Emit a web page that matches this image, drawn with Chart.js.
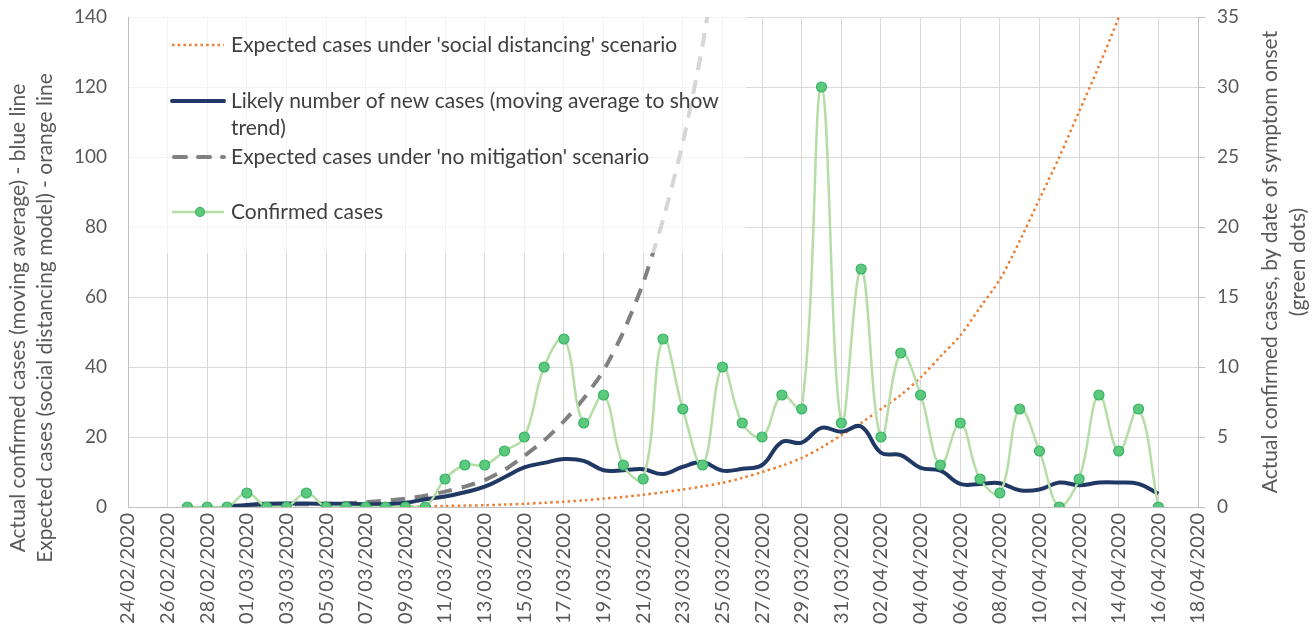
<!DOCTYPE html>
<html>
<head>
<meta charset="utf-8">
<script src="https://cdn.jsdelivr.net/npm/chart.js@4.4.1/dist/chart.umd.min.js"></script>
<style>
  body { margin: 0; background: #fff; }
  #wrap { width: 1312px; height: 635px; position: relative; }
</style>
</head>
<body>
<div id="wrap"><canvas id="chart"></canvas></div>
<script>
// dates, one per day (labels shown every 2 days)
const dates = [
  '24/02/2020','25/02/2020','26/02/2020','27/02/2020','28/02/2020','29/02/2020',
  '01/03/2020','02/03/2020','03/03/2020','04/03/2020','05/03/2020','06/03/2020','07/03/2020',
  '08/03/2020','09/03/2020','10/03/2020','11/03/2020','12/03/2020','13/03/2020','14/03/2020',
  '15/03/2020','16/03/2020','17/03/2020','18/03/2020','19/03/2020','20/03/2020','21/03/2020',
  '22/03/2020','23/03/2020','24/03/2020','25/03/2020','26/03/2020','27/03/2020','28/03/2020',
  '29/03/2020','30/03/2020','31/03/2020','01/04/2020','02/04/2020','03/04/2020','04/04/2020',
  '05/04/2020','06/04/2020','07/04/2020','08/04/2020','09/04/2020','10/04/2020','11/04/2020',
  '12/04/2020','13/04/2020','14/04/2020','15/04/2020','16/04/2020','17/04/2020','18/04/2020'
];

// confirmed cases by onset date (right axis)
const confirmed = [
  null, null, null, 0, 0, 0,
  1, 0, 0, 1, 0, 0, 0,
  0, 0, 0, 2, 3, 3, 4,
  5, 10, 12, 6, 8, 3, 2,
  12, 7, 3, 10, 6, 5, 8,
  7, 30, 6, 17, 5, 11, 8,
  3, 6, 2, 1, 7, 4, 0,
  2, 8, 4, 7, 0, null, null
];

// moving average (left axis)
const movingAvg = [
  null, null, null, null, null, 0.2,
  0.6, 0.9, 1.0, 1.0, 0.9, 0.9, 0.8,
  0.8, 1.2, 2.2, 3.0, 4.2, 5.8, 8.5,
  11.3, 12.6, 13.7, 13.2, 10.5, 10.5, 10.8,
  9.4, 11.5, 12.8, 10.4, 10.9, 12.0, 18.6,
  18.4, 22.6, 21.5, 23.0, 15.5, 14.8, 11.2,
  10.4, 6.6, 6.6, 6.8, 4.8, 5.0, 7.0,
  6.2, 7.0, 7.0, 6.6, 3.8, null, null
];

// no mitigation scenario (left axis)
const noMitigation = [
  null, null, null, null, null, null,
  0.5, 0.6, 0.7, 0.8, 0.9, 1.1, 1.4,
  1.8, 2.4, 3.2, 4.4, 5.8, 7.7, 10.6,
  14.6, 19, 24.5, 31, 39, 50, 64,
  82, 104, 132, 168, null, null, null,
  null, null, null, null, null, null, null,
  null, null, null, null, null, null, null,
  null, null, null, null, null, null, null
];

// social distancing scenario (left axis)
const socialDistancing = [
  null, null, null, null, null, null,
  null, null, null, null, null, null, null,
  null, 0.1, 0.2, 0.3, 0.4, 0.5, 0.7,
  0.9, 1.2, 1.5, 1.9, 2.4, 2.9, 3.5,
  4.2, 5.0, 5.9, 6.9, 8.3, 10, 11.8,
  14, 17, 20.5, 24, 28, 32, 37,
  43, 49, 57, 65, 76, 88, 100,
  113, 126, 140, 156, null, null, null
];

const leftTicks = [0, 20, 40, 60, 80, 100, 120, 140];
const rightTicks = [0, 5, 10, 15, 20, 25, 30, 35];

const seriesNames = [
  "Confirmed cases",
  "Likely number of new cases (moving average to show trend)",
  "Expected cases under 'no mitigation' scenario",
  "Expected cases under 'social distancing' scenario"
];
const leftTitle = ['Actual confirmed cases (moving average) - blue line', 'Expected cases (social distancing model) - orange line'];
const rightTitle = ['Actual confirmed cases, by date of symptom onset', '(green dots)'];

const FONT = 'Lato, "Open Sans", sans-serif';

// legend box drawn inside the plot, semi transparent like Excel
const legendBox = {
  id: 'legendBox',
  afterDatasetsDraw(chart) {
    const ctx = chart.ctx;
    const a = chart.chartArea;
    ctx.save();
    ctx.fillStyle = 'rgba(255,255,255,0.68)';
    ctx.fillRect(a.left + 1, a.top, 745 - a.left, 253 - a.top);

    ctx.font = '21px ' + FONT;
    ctx.fillStyle = '#404040';
    ctx.textBaseline = 'middle';
    const x0 = 172, x1 = 224, tx = 231;

    // social distancing
    ctx.beginPath();
    ctx.strokeStyle = '#ed7d31';
    ctx.lineWidth = 2.5;
    ctx.setLineDash([2.5, 3.2]);
    ctx.moveTo(x0, 45); ctx.lineTo(x1, 45); ctx.stroke();
    ctx.fillText(seriesNames[3], tx, 45);

    // moving average
    ctx.beginPath();
    ctx.setLineDash([]);
    ctx.strokeStyle = '#1f3864';
    ctx.lineWidth = 4;
    ctx.lineCap = 'round';
    ctx.moveTo(x0, 101); ctx.lineTo(x1, 101); ctx.stroke();
    ctx.fillText('Likely number of new cases (moving average to show', tx, 101);
    ctx.fillText('trend)', tx, 128);

    // no mitigation
    ctx.beginPath();
    ctx.strokeStyle = '#808080';
    ctx.lineWidth = 4;
    ctx.setLineDash([12, 12]);
    ctx.moveTo(x0 + 2, 157); ctx.lineTo(x1, 157); ctx.stroke();
    ctx.setLineDash([]);
    ctx.fillText(seriesNames[2], tx, 157);

    // confirmed
    ctx.beginPath();
    ctx.lineCap = 'butt';
    ctx.strokeStyle = '#b4dea6';
    ctx.lineWidth = 2.5;
    ctx.moveTo(x0, 212); ctx.lineTo(x1, 212); ctx.stroke();
    ctx.beginPath();
    ctx.arc(200, 212, 4.5, 0, Math.PI * 2);
    ctx.fillStyle = '#5cc97e';
    ctx.fill();
    ctx.lineWidth = 1.2;
    ctx.strokeStyle = '#35b463';
    ctx.stroke();
    ctx.fillStyle = '#404040';
    ctx.fillText(seriesNames[0], tx, 212);
    ctx.restore();
  }
};

// axis titles (right one reads bottom to top, like the left one)
const axisTitles = {
  id: 'axisTitles',
  afterDraw(chart) {
    const ctx = chart.ctx;
    ctx.save();
    ctx.font = '21px ' + FONT;
    ctx.fillStyle = '#595959';
    ctx.textAlign = 'center';
    ctx.textBaseline = 'middle';
    const draw = (txt, x, y) => {
      ctx.save();
      ctx.translate(x, y);
      ctx.rotate(-Math.PI / 2);
      ctx.fillText(txt, 0, 0);
      ctx.restore();
    };
    draw(leftTitle[0], 18, 318);
    draw(leftTitle[1], 45, 318);
    draw(rightTitle[0], 1270, 262);
    draw(rightTitle[1], 1298, 262);
    ctx.restore();
  }
};

// tick padding also pads the axis ends in Chart.js; keep only label overhang
const trimPad = s => { s.paddingTop = 11; s.paddingBottom = 11; };

new Chart(document.getElementById('chart'), {
  type: 'line',
  data: {
    labels: dates,
    datasets: [
      {
        label: seriesNames[0],
        data: confirmed,
        yAxisID: 'y1',
        borderColor: '#b4dea6',
        borderWidth: 2.5,
        pointRadius: 5,
        pointBackgroundColor: '#5cc97e',
        pointBorderColor: '#35b463',
        pointBorderWidth: 1.2,
        tension: 0.4,
        order: 0
      },
      {
        label: seriesNames[1],
        data: movingAvg,
        yAxisID: 'y',
        borderColor: '#1f3864',
        borderWidth: 4,
        pointRadius: 0,
        tension: 0.4,
        order: 1
      },
      {
        label: seriesNames[2],
        data: noMitigation,
        yAxisID: 'y',
        borderColor: '#808080',
        borderWidth: 4,
        borderDash: [14, 10],
        pointRadius: 0,
        tension: 0.2,
        order: 2
      },
      {
        label: seriesNames[3],
        data: socialDistancing,
        yAxisID: 'y',
        borderColor: '#ed7d31',
        borderWidth: 2.5,
        borderDash: [2.5, 3.3],
        pointRadius: 0,
        tension: 0.3,
        order: 3
      }
    ]
  },
  options: {
    responsive: true,
    maintainAspectRatio: false,
    animation: false,
    layout: { padding: { top: 17, left: 0, right: 0, bottom: 0 } },
    plugins: { legend: { display: false }, tooltip: { enabled: false } },
    scales: {
      x: {
        offset: false,
        grid: {
          color: '#d9d9d9',
          drawTicks: false
        },
        border: { color: '#bfbfbf' },
        ticks: {
          autoSkip: false,
          minRotation: 90,
          maxRotation: 90,
          padding: 6,
          color: '#595959',
          font: { family: FONT, size: 20 },
          callback: (v, i) => (i % 2 === 0 ? dates[i] : null)
        },
        afterFit: s => { s.height = 128; }
      },
      y: {
        position: 'left',
        min: 0,
        max: 140,
        afterBuildTicks: s => { s.ticks = leftTicks.map(v => ({ value: v })); },
        grid: { color: '#d9d9d9', drawTicks: false },
        border: { color: '#bfbfbf' },
        ticks: {
          padding: 21,
          color: '#595959',
          font: { family: FONT, size: 19 }
        },
        afterFit: s => { s.width = 128; trimPad(s); }
      },
      y1: {
        position: 'right',
        min: 0,
        max: 35,
        afterBuildTicks: s => { s.ticks = rightTicks.map(v => ({ value: v })); },
        grid: { drawOnChartArea: false, color: '#bfbfbf', tickLength: 7 },
        border: { color: '#bfbfbf' },
        ticks: {
          padding: 12,
          color: '#595959',
          font: { family: FONT, size: 19 }
        },
        afterFit: s => { s.width = 114; trimPad(s); }
      }
    }
  },
  plugins: [legendBox, axisTitles]
});
</script>
</body>
</html>
